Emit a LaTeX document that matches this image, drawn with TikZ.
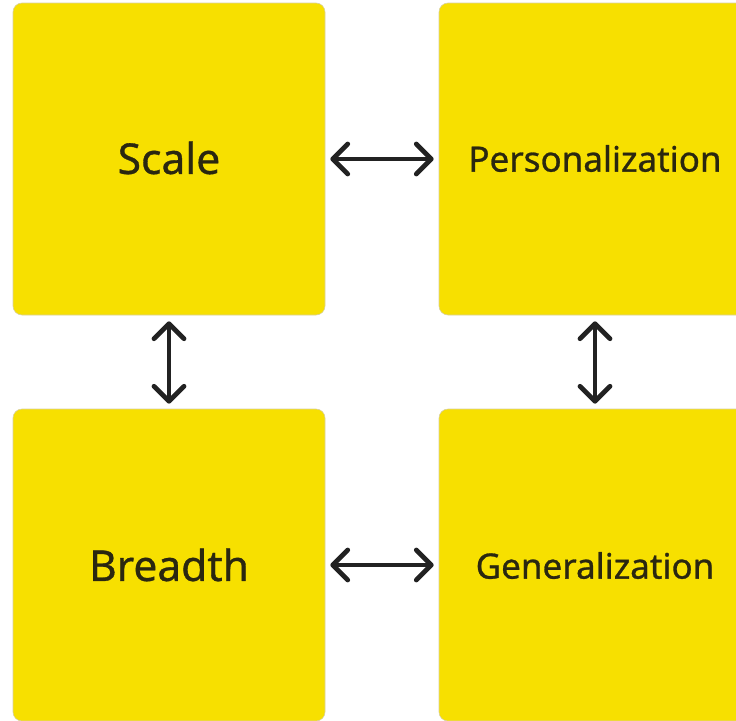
\documentclass[tikz,border=0pt]{standalone}
\usepackage{fontspec}
\setmainfont[FakeBold=0.8]{Noto Sans}
\usetikzlibrary{arrows.meta}
\definecolor{boxyellow}{HTML}{F7E000}
\definecolor{boxedge}{HTML}{D8D0A0}
\definecolor{inkdark}{HTML}{2A2710}
\definecolor{arrowdark}{HTML}{222222}
\tikzset{
  card/.style={draw=boxedge, line width=0.6pt, fill=boxyellow, rounded corners=9pt,
    minimum width=312pt, minimum height=312pt, inner sep=0pt, text=inkdark},
  bigtext/.style={font=\fontsize{42.5}{48}\selectfont},
  midtext/.style={font=\fontsize{35}{40}\selectfont},
  biarrow/.style={draw=arrowdark, line width=4.8pt, line cap=round, line join=round,
    {Straight Barb[length=15pt,width=30pt,round]}-{Straight Barb[length=15pt,width=30pt,round]}}
}
\begin{document}
\begin{tikzpicture}[x=1pt,y=-1pt]
\useasboundingbox (0,0) rectangle (736,720);
\clip (0,0) rectangle (736,720);
\node[card] (scale) at (169,159) {};
\node[card] (pers) at (595,159) {};
\node[card] (bread) at (169,565) {};
\node[card] (gen) at (595,565) {};
\node[bigtext, text=inkdark] (tscale) at (169,158) {Scale};
\node[midtext, text=inkdark] (tpers) at (595,158.5) {Personalization};
\node[bigtext, text=inkdark] (tbread) at (169,565) {Breadth};
\node[midtext, text=inkdark] (tgen) at (595,565.5) {Generalization};
\draw[biarrow, shorten <=5pt, shorten >=5pt] (scale.east) -- (pers.west);
\draw[biarrow, shorten <=5pt, shorten >=5pt] (bread.east) -- (gen.west);
\draw[biarrow, shorten <=6pt, shorten >=5pt] (scale.south) -- (bread.north);
\draw[biarrow, shorten <=6pt, shorten >=5pt] (pers.south) -- (gen.north);
\end{tikzpicture}
\end{document}
